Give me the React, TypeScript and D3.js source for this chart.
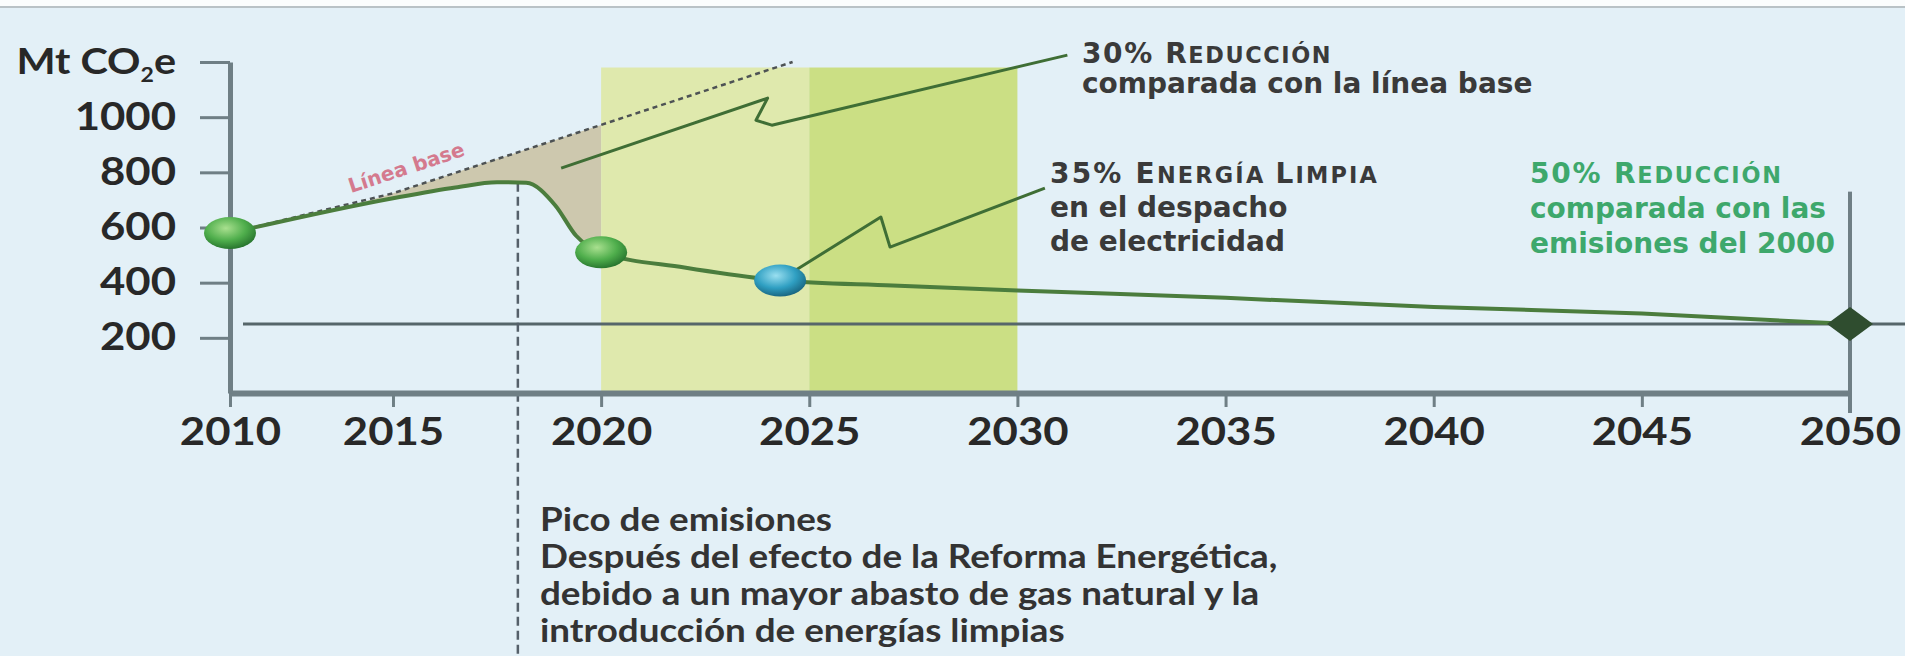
import React, { useEffect, useRef } from 'react';
import * as d3 from 'd3';

// años del eje x
const years = [2010, 2015, 2020, 2025, 2030, 2035, 2040, 2045, 2050];
// eje y (el último tick lleva la unidad)
const yTicks = [200, 400, 600, 800, 1000, 1200];
const yTickLabels = ['200', '400', '600', '800', '1000', 'Mt CO2e'];

// línea base punteada
const baselineYears = [2010, 2015, 2020, 2024.6];
const baselineValues = [580, 724, 972, 1200];

// trayectoria de emisiones
const pathYears = [2010, 2015, 2016.5, 2017.5, 2018.2, 2018.9, 2019.4, 2020, 2022, 2024.3, 2027, 2030, 2035, 2040, 2045, 2050];
const pathValues = [580, 706, 745, 764, 762, 680, 570, 510, 455, 408, 390, 372, 345, 312, 288, 250];

// hitos (esferas)
const milestoneYears = [2010, 2020, 2024.3];
const milestoneValues = [580, 510, 408];
const milestoneKinds = ['green', 'green', 'blue'];

// meta 2050
const goalYear = 2050;
const goalValue = 250;
const peakYear = 2018;

// franjas de metas
const bandFrom = [2020, 2025];
const bandTo = [2025, 2030];

// líneas de llamada (en unidades de datos)
const leader30Years = [2019.04, 2024.0, 2023.72, 2024.1, 2031.2];
const leader30Values = [815, 1069, 989, 971, 1225];
const leader35Years = [2024.68, 2026.72, 2026.94, 2030.66];
const leader35Values = [446, 638, 529, 743];

const width = 1905;
const height = 656;
const margin = { top: 62, right: 55, bottom: 263, left: 230 };
// el original está estirado en horizontal
const stretch = 1.15;

type Seg = [string, boolean];

const App = () => {
  const svgRef = useRef<SVGSVGElement>(null);

  useEffect(() => {
    const innerW = width - margin.left - margin.right;
    const innerH = height - margin.top - margin.bottom;

    const svg = d3.select(svgRef.current);
    svg.selectAll('*').remove();

    const x = d3.scaleLinear()
      .domain([2010, 2015, 2050])
      .range([0, innerW * 0.1006, innerW]);
    const y = d3.scaleLinear().domain([0, 1200]).range([innerH, 0]);

    const baseAt = d3.scaleLinear().domain(baselineYears).range(baselineValues);
    const pathAt = d3.scaleLinear().domain(pathYears).range(pathValues);

    const defs = svg.append('defs');
    const ball = (id: string, c0: string, c1: string, c2: string) => {
      const gr = defs.append('radialGradient').attr('id', id)
        .attr('cx', '42%').attr('cy', '35%').attr('r', '70%');
      gr.append('stop').attr('offset', '0%').attr('stop-color', c0);
      gr.append('stop').attr('offset', '55%').attr('stop-color', c1);
      gr.append('stop').attr('offset', '100%').attr('stop-color', c2);
    };
    ball('ball-green', '#a9e08f', '#4fae4c', '#226d2a');
    ball('ball-blue', '#9adff0', '#2f9fc2', '#165e78');

    // fondo
    svg.append('rect').attr('width', width).attr('height', height).attr('fill', '#e3f0f7');
    svg.append('rect').attr('width', width).attr('height', 6).attr('fill', '#fbfdfd');
    svg.append('line').attr('x1', 0).attr('x2', width).attr('y1', 7).attr('y2', 7)
      .attr('stroke', '#b9c2c6').attr('stroke-width', 2);

    const g = svg.append('g').attr('transform', `translate(${margin.left},${margin.top})`);

    // área entre línea base y trayectoria
    const shade = pathYears.map((yr, i) => ({ yr, v: pathValues[i] })).filter(d => d.yr <= 2020);
    g.append('path')
      .datum(shade)
      .attr('fill', '#cdc8ae')
      .attr('d', d3.area<{ yr: number; v: number }>()
        .x(d => x(d.yr))
        .y0(d => y(d.v))
        .y1(d => y(baseAt(d.yr)))
        .curve(d3.curveMonotoneX));

    // franjas
    const bandColors = ['#dfe9ad', '#cbdf84'];
    g.selectAll('.band')
      .data(bandFrom)
      .enter()
      .append('rect')
      .attr('x', d => x(d))
      .attr('y', y(1180))
      .attr('width', (d, i) => x(bandTo[i]) - x(d))
      .attr('height', innerH - y(1180))
      .attr('fill', (d, i) => bandColors[i]);

    // línea horizontal de la meta
    g.append('line')
      .attr('x1', x(2010) + 13).attr('x2', width - margin.left)
      .attr('y1', y(goalValue)).attr('y2', y(goalValue))
      .attr('stroke', '#56666a').attr('stroke-width', 3);

    // pico de emisiones
    g.append('line')
      .attr('x1', x(peakYear)).attr('x2', x(peakYear))
      .attr('y1', y(pathAt(peakYear))).attr('y2', height - margin.top)
      .attr('stroke', '#55606a').attr('stroke-width', 2.5)
      .attr('stroke-dasharray', '9,5');

    const axisColor = '#6f7f85';

    const xAxis = d3.axisBottom(x)
      .tickValues(years)
      .tickFormat(d3.format('d'))
      .tickSize(14)
      .tickSizeOuter(0)
      .tickPadding(11);
    const gx = g.append('g')
      .attr('transform', `translate(0,${innerH})`)
      .call(xAxis)
      .attr('font-family', 'Lato')
      .attr('font-weight', 'bold')
      .attr('font-size', 38);
    gx.select('.domain').attr('stroke', axisColor).attr('stroke-width', 6);
    gx.selectAll('.tick line').attr('stroke', axisColor).attr('stroke-width', 3);
    gx.selectAll('.tick text').attr('fill', '#282828')
      .attr('transform', `scale(${stretch},1)`);

    const yAxis = d3.axisLeft(y)
      .tickValues(yTicks)
      .tickSize(30)
      .tickSizeOuter(0)
      .tickPadding(24)
      .tickFormat((d, i) => yTickLabels[i]);
    const gy = g.append('g')
      .call(yAxis)
      .attr('font-family', 'Lato')
      .attr('font-weight', 'bold')
      .attr('font-size', 38);
    gy.select('.domain').attr('stroke', axisColor).attr('stroke-width', 5);
    gy.selectAll('.tick line').attr('stroke', axisColor).attr('stroke-width', 3);
    gy.selectAll('.tick text').attr('fill', '#282828')
      .attr('x', -54 / stretch)
      .attr('transform', `scale(${stretch},1)`);
    const unit = gy.selectAll<SVGTextElement, number>('.tick text').filter(d => d === 1200);
    unit.text(null).attr('font-size', 36);
    unit.append('tspan').text('Mt CO');
    unit.append('tspan').text('2').attr('font-size', 20).attr('dy', 8);
    unit.append('tspan').text('e').attr('dy', -8);

    // línea vertical 2050
    g.append('line')
      .attr('x1', x(goalYear)).attr('x2', x(goalYear))
      .attr('y1', y(730)).attr('y2', innerH + 20)
      .attr('stroke', axisColor).attr('stroke-width', 4);

    // línea base punteada
    const baseLine = d3.line<number>()
      .x(d => x(d))
      .y((d, i) => y(baselineValues[i]));
    g.append('path')
      .datum(baselineYears)
      .attr('fill', 'none')
      .attr('stroke', '#4d5254')
      .attr('stroke-width', 2.5)
      .attr('stroke-dasharray', '5,4')
      .attr('d', baseLine);

    // trayectoria
    const line = d3.line<number>()
      .x(d => x(d))
      .y((d, i) => y(pathValues[i]))
      .curve(d3.curveMonotoneX);
    g.append('path')
      .datum(pathYears)
      .attr('fill', 'none')
      .attr('stroke', '#4b7d3d')
      .attr('stroke-width', 4)
      .attr('d', line);

    // llamadas
    const leader = d3.line<number>().x(d => x(d));
    g.append('path')
      .attr('fill', 'none').attr('stroke', '#3f6e35').attr('stroke-width', 3)
      .attr('stroke-linejoin', 'round')
      .attr('d', leader.y((d, i) => y(leader30Values[i]))(leader30Years));
    g.append('path')
      .attr('fill', 'none').attr('stroke', '#3f6e35').attr('stroke-width', 3)
      .attr('stroke-linejoin', 'round')
      .attr('d', leader.y((d, i) => y(leader35Values[i]))(leader35Years));

    // hitos
    g.selectAll('.milestone')
      .data(milestoneYears)
      .enter()
      .append('ellipse')
      .attr('cx', d => x(d))
      .attr('cy', (d, i) => y(milestoneValues[i]))
      .attr('rx', 26)
      .attr('ry', 16)
      .attr('fill', (d, i) => `url(#ball-${milestoneKinds[i]})`);

    // rombo meta
    g.append('path')
      .attr('transform', `translate(${x(goalYear)},${y(goalValue)})`)
      .attr('d', 'M-23,0L0,-17L23,0L0,17Z')
      .attr('fill', '#2f4d2f');

    // etiqueta línea base
    const a0 = 2015, a1 = 2020;
    const ang = Math.atan2(y(baseAt(a1)) - y(baseAt(a0)), x(a1) - x(a0)) * 180 / Math.PI;
    const ly = 2015.3;
    g.append('text')
      .attr('transform', `translate(${x(ly) + 3},${y(baseAt(ly)) - 15}) rotate(${ang})`)
      .attr('text-anchor', 'middle')
      .attr('font-family', 'DejaVu Sans')
      .attr('font-weight', 'bold')
      .attr('font-size', 20)
      .attr('fill', '#d2667c')
      .attr('opacity', 0.85)
      .text('Línea base');

    // textos
    const block = (x0: number, y0: number, lh: number, lines: Seg[][], size: number,
      color: string, family: string, sx = 1, spacing = 0) => {
      const t = svg.append('text')
        .attr('transform', `translate(${x0},${y0}) scale(${sx},1)`)
        .attr('font-family', family)
        .attr('font-weight', 'bold')
        .attr('font-size', size)
        .attr('fill', color);
      lines.forEach((segs, i) => {
        segs.forEach(([s, small], j) => {
          const ts = t.append('tspan').text(s);
          if (j === 0) ts.attr('x', 0).attr('dy', i === 0 ? 0 : lh);
          if (small) ts.attr('font-size', size * 0.8);
          if (i === 0 && spacing) ts.attr('letter-spacing', spacing);
        });
      });
    };

    block(1082, 63, 30, [
      [['30% R', false], ['EDUCCIÓN', true]],
      [['comparada con la línea base', false]],
    ], 28, '#3a3a3a', 'DejaVu Sans', 1, 1.6);

    block(1050, 183, 34, [
      [['35% E', false], ['NERGÍA ', true], ['L', false], ['IMPIA', true]],
      [['en el despacho', false]],
      [['de electricidad', false]],
    ], 28, '#3a3a3a', 'DejaVu Sans', 1, 2.2);

    block(1530, 183, 35, [
      [['50% R', false], ['EDUCCIÓN', true]],
      [['comparada con las', false]],
      [['emisiones del 2000', false]],
    ], 28, '#3ea86c', 'DejaVu Sans', 1, 1.8);

    block(540, 531, 37, [
      [['Pico de emisiones', false]],
      [['Después del efecto de la Reforma Energética,', false]],
      [['debido a un mayor abasto de gas natural y la', false]],
      [['introducción de energías limpias', false]],
    ], 32, '#333333', 'Lato', stretch);
  }, []);

  return (
    <svg
      ref={svgRef}
      width={width}
      height={height}
      style={{ position: 'absolute', left: 0, top: 0, display: 'block' }}
    />
  );
};

export default App;
